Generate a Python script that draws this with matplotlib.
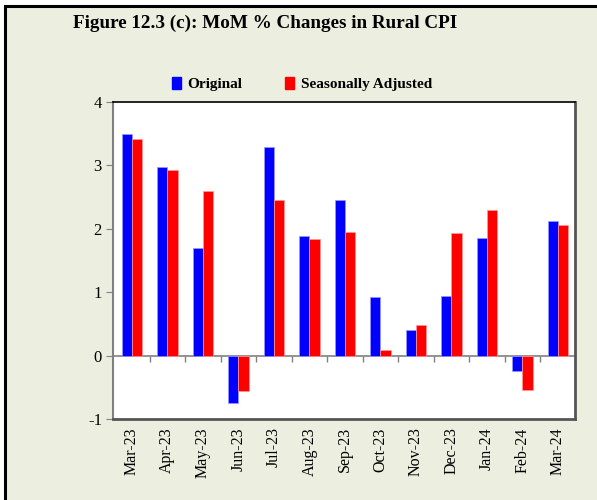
import numpy as np
import matplotlib.pyplot as plt
from matplotlib.patches import Rectangle, Patch

months = ["Mar-23", "Apr-23", "May-23", "Jun-23", "Jul-23", "Aug-23", "Sep-23",
          "Oct-23", "Nov-23", "Dec-23", "Jan-24", "Feb-24", "Mar-24"]
original = [3.49, 2.98, 1.69, -0.75, 3.29, 1.88, 2.45, 0.93, 0.40, 0.94, 1.86, -0.25, 2.13]
seas_adj = [3.42, 2.92, 2.59, -0.56, 2.46, 1.84, 1.95, 0.09, 0.49, 1.93, 2.30, -0.54, 2.06]

bg = "#ECEEE0"
plt.rcParams['font.family'] = ['Liberation Serif', 'DejaVu Serif']
plt.rcParams['axes.unicode_minus'] = False

fig = plt.figure(figsize=(5.97, 5.0), dpi=100, facecolor="white")
fig.patches.append(Rectangle((5/597, -0.1), 1.2, 1.1 - 6/500, transform=fig.transFigure,
                             facecolor=bg, edgecolor="black", linewidth=2.2, zorder=-10))

ax = fig.add_axes([113/597, 1 - 419/500, 462/597, 317/500])
x = np.arange(len(months))
w = 0.29
ax.bar(x - w/2, original, w, color="#0000FF", edgecolor="#9999FF", linewidth=0.5, label="Original")
ax.bar(x + w/2, seas_adj, w, color="#FF0000", edgecolor="#FF9999", linewidth=0.5, label="Seasonally Adjusted")

ax.set_xlim(-0.53, 12.48)
ax.set_ylim(-1, 4)
ax.set_yticks([-1, 0, 1, 2, 3, 4])
ax.tick_params(axis="y", direction="out", length=5, color="#808080", labelsize=12, pad=3)

ax.set_xticks(x)
ax.set_xticklabels(months, rotation=90, fontsize=11.5)
ax.tick_params(axis="x", length=0, pad=6)

sec = ax.secondary_xaxis(0.2)
sec.set_xticks(np.arange(len(months) - 1) + 0.5)
sec.set_xticklabels([])
sec.tick_params(axis="x", direction="out", length=4, color="#808080", width=1)
sec.spines["bottom"].set_color("#808080")
sec.spines["bottom"].set_linewidth(1.2)

ax.spines["left"].set_color("#808080")
ax.spines["left"].set_linewidth(1.5)
ax.spines["top"].set_color("black")
ax.spines["top"].set_linewidth(1.2)
ax.spines["right"].set_color("#555555")
ax.spines["right"].set_linewidth(2)
ax.spines["bottom"].set_color("#555555")
ax.spines["bottom"].set_linewidth(2)

handles = [Patch(color="#0000FF"), Patch(color="#FF0000")]
fig.legend(handles, ["Original", "Seasonally Adjusted"], loc="center",
           bbox_to_anchor=(302/597, 1 - 84/500), ncol=2, frameon=False,
           handlelength=0.6, handleheight=0.9, handletextpad=0.4, columnspacing=2.8,
           prop={"weight": "bold", "size": 11})

fig.text(265/597, 1 - 23/500, "Figure 12.3 (c): MoM % Changes in Rural CPI",
         ha="center", va="center", fontsize=13.8, fontweight="bold")

fig.savefig("out.png", dpi=100, facecolor="white")
